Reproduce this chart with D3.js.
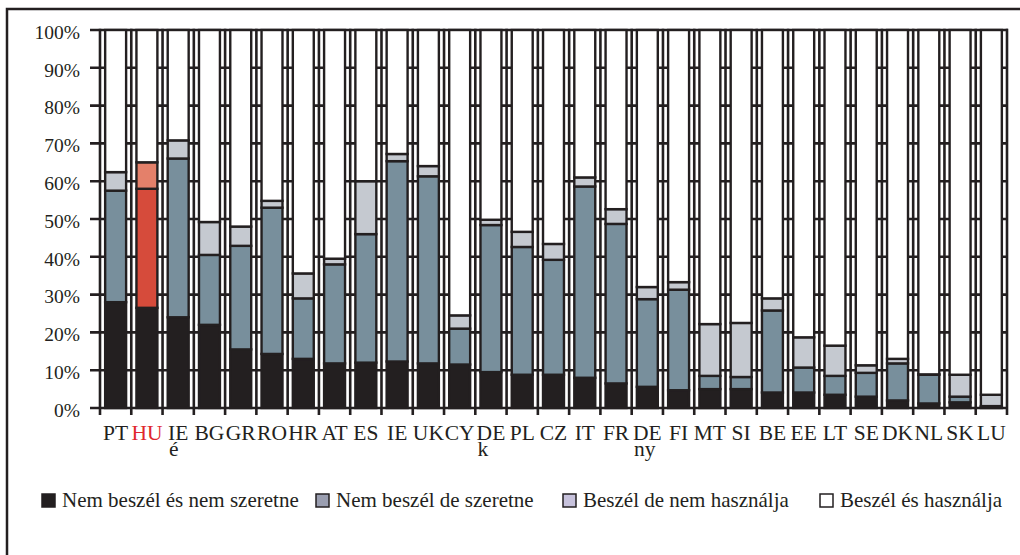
<!DOCTYPE html>
<html><head><meta charset="utf-8">
<script src="https://cdn.jsdelivr.net/npm/d3@7"></script>
<style>
html,body{margin:0;padding:0;background:#fff;}
svg{display:block;}
svg text{font-family:"Liberation Serif","Times New Roman",serif;}
</style></head>
<body><svg id="c" width="1020" height="555"></svg>
<script>
const categories = ["PT","HU","IE é","BG","GR","RO","HR","AT","ES","IE","UK","CY","DE k","PL","CZ","IT","FR","DE ny","FI","MT","SI","BE","EE","LT","SE","DK","NL","SK","LU"];
const seriesNames = ["Nem beszél és nem szeretne","Nem beszél de szeretne","Beszél de nem használja","Beszél és használja"];
const nemBeszelNemSzeretne = [28,26.5,24,22,15.5,14.3,13,11.8,12,12.3,11.8,11.5,9.5,8.8,8.8,8,6.5,5.6,4.7,5,5,4.1,4.1,3.5,3,2,1.2,1.5,0.3];
const nemBeszelDeSzeretne  = [29.5,31.5,42,18.5,27.4,38.7,16,26.2,34,53,49.5,9.5,38.9,33.8,30.4,50.6,42.2,23.2,26.6,3.5,3.2,21.7,6.6,5,6.3,9.8,7.6,1.5,0.2];
const beszelDeNemHasznalja = [4.9,7,4.8,8.7,5.1,1.8,6.6,1.5,14,1.9,2.7,3.5,1.4,4,4.2,2.4,3.9,3.2,2,13.7,14.3,3.2,8,8,2,1.2,0.1,5.8,3];
const beszelEsHasznalja    = [37.6,35,29.2,50.8,52,45.2,64.4,60.5,40,32.8,36,75.5,50.2,53.4,56.6,39,47.4,68,66.7,77.8,77.5,71,81.3,83.5,88.7,87,91.1,91.2,96.5];
const yTicks = [0,10,20,30,40,50,60,70,80,90,100];
const highlight = "HU";

const barColors = ["#231f20","#788f9c","#c5c9d0","#ffffff"];
const hlColors  = ["#231f20","#d64b3b","#e4806a","#ffffff"];
const legendColors = ["#231f20","#9a9eb0","#c7c2dc","#ffffff"];
const ink = "#231f20";
const FONT = '"Liberation Serif", "Times New Roman", serif';

const svg = d3.select("#c");

svg.append("rect").attr("x",7).attr("y",9).attr("width",1040).attr("height",580)
  .attr("fill","none").attr("stroke",ink).attr("stroke-width",2.5);

const x = d3.scaleBand().domain(categories).range([100,1007]).paddingInner(0.33).paddingOuter(0.165);
const y = d3.scaleLinear().domain([0,100]).range([408,30]);

const rows = categories.map((c,i)=>({cat:c, s0:nemBeszelNemSzeretne[i], s1:nemBeszelDeSzeretne[i], s2:beszelDeNemHasznalja[i], s3:beszelEsHasznalja[i]}));
const stack = d3.stack().keys(["s0","s1","s2","s3"])(rows);

const g = svg.append("g");
g.selectAll("line.h").data(yTicks).join("line")
  .attr("x1",90).attr("x2",1008).attr("y1",d=>y(d)).attr("y2",d=>y(d))
  .attr("stroke",ink).attr("stroke-width",2.6);
const step = x.step();
const bounds = d3.range(categories.length+1).map(i=> x(categories[0]) - x.paddingOuter()*step + i*step);
g.selectAll("line.v").data(bounds).join("line")
  .attr("x1",d=>d).attr("x2",d=>d).attr("y1",y(100)-1.3).attr("y2",415)
  .attr("stroke",ink).attr("stroke-width",2.6);

stack.forEach((layer,li)=>{
  g.append("g").selectAll("rect").data(layer).join("rect")
    .attr("x",d=>x(d.data.cat)).attr("width",x.bandwidth())
    .attr("y",d=>y(d[1])).attr("height",d=>Math.max(0,y(d[0])-y(d[1])))
    .attr("fill",d=> d.data.cat===highlight ? hlColors[li] : barColors[li])
    .attr("stroke",ink).attr("stroke-width",2.4);
});

svg.append("g").selectAll("text").data(yTicks).join("text")
  .style("font-family",FONT)
  .attr("x",80).attr("y",d=>y(d)+2).attr("dy","0.35em")
  .attr("text-anchor","end").attr("font-size",19.5).attr("fill",ink)
  .text(d=>d+"%");

const xl = svg.append("g").selectAll("text").data(categories).join("text")
  .style("font-family",FONT)
  .attr("font-size",21.5)
  .attr("fill",d=> d===highlight ? "#e0262d" : ink)
  .attr("x",d=>x(d)+x.bandwidth()/2).attr("y",440)
  .attr("text-anchor","middle")
  .text(d=>d.split(" ")[0]);
const sub = categories.filter(d=>d.split(" ").length>1);
svg.append("g").selectAll("text").data(sub).join("text")
  .style("font-family",FONT)
  .attr("font-size",21.5).attr("fill",ink)
  .attr("x",d=>{
     const node = xl.filter(c=>c===d).node();
     return x(d)+x.bandwidth()/2 - node.getComputedTextLength()/2 + 1;
  })
  .attr("y",456)
  .text(d=>d.split(" ")[1]);

const legX = [42,316,563,820];
const leg = svg.append("g").selectAll("g").data(seriesNames).join("g")
  .attr("transform",(d,i)=>`translate(${legX[i]},494)`);
leg.append("rect").attr("width",13).attr("height",13)
  .attr("fill",(d,i)=>legendColors[i]).attr("stroke",ink).attr("stroke-width",1.5);
leg.append("text").style("font-family",FONT)
  .attr("x",20).attr("y",13).attr("font-size",21).attr("fill",ink).text(d=>d);
</script></body></html>
